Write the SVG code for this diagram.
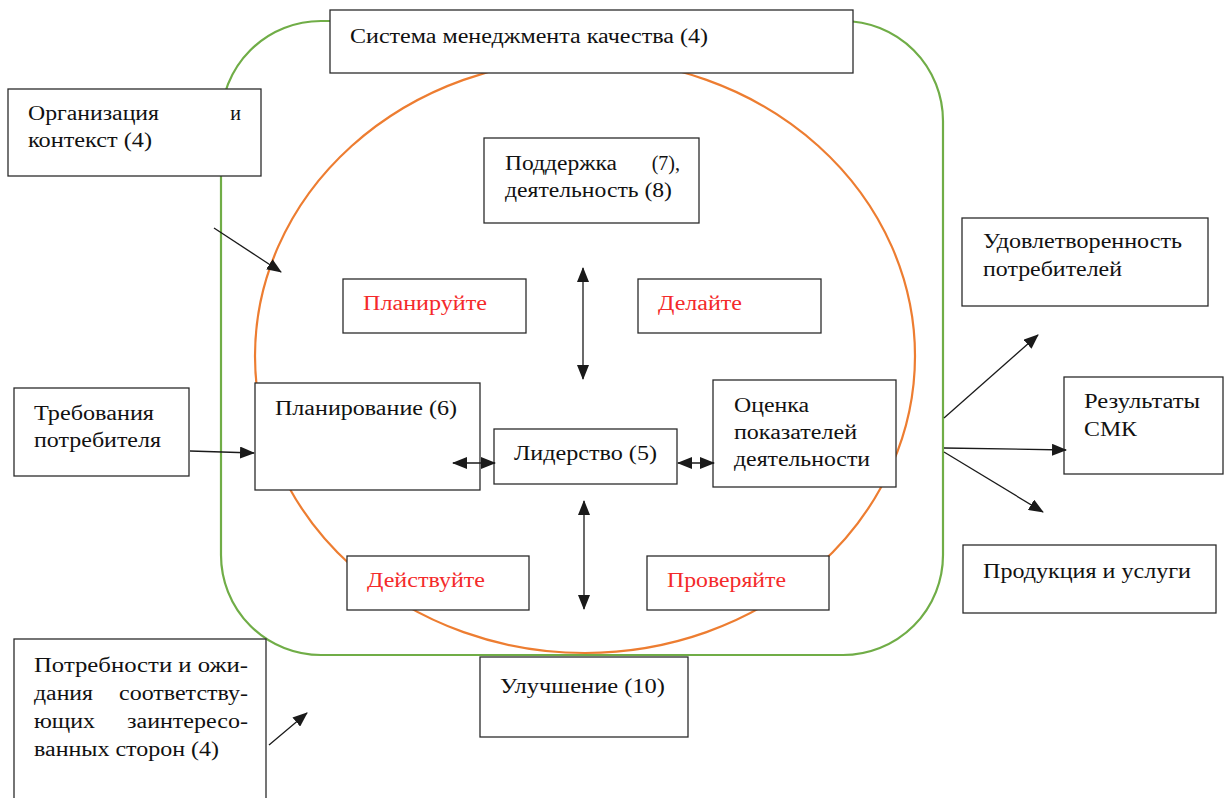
<svg xmlns="http://www.w3.org/2000/svg" width="1227" height="798" viewBox="0 0 1227 798">
<style>
.box{fill:#fff;stroke:#2b2b2b;stroke-width:1.3}
.t{font-family:'Liberation Serif','DejaVu Serif',serif;font-size:20px;fill:#111}
.r{fill:#f42a2a}
.ln{stroke:#1a1a1a;stroke-width:1.3;fill:none}
</style>
<defs>
<marker id="ah" markerUnits="userSpaceOnUse" markerWidth="15" markerHeight="12" viewBox="0 0 15 12" refX="14" refY="6" orient="auto-start-reverse">
<path d="M0,0 L15,6 L0,12 z" fill="#1a1a1a"/>
</marker>
</defs>
<rect id="bg" x="0" y="0" width="1227" height="798" fill="#fff"/>
<rect id="qms-boundary" x="221" y="21" width="722" height="634" rx="100" ry="100" fill="none" stroke="#70ad47" stroke-width="2.2"/>
<ellipse id="pdca-cycle" cx="585" cy="356" rx="330" ry="297" fill="none" stroke="#ed7d31" stroke-width="2.2"/>
<g id="qms">
<rect class="box" x="330" y="10" width="523" height="63"/>
<text class="t" x="350" y="43" textLength="358" lengthAdjust="spacingAndGlyphs">Система менеджмента качества (4)</text>
</g>
<g id="org-context">
<rect class="box" x="8" y="89" width="253" height="87"/>
<text class="t" x="28" y="120" textLength="131" lengthAdjust="spacingAndGlyphs">Организация</text>
<text class="t" x="241" y="120" text-anchor="end">и</text>
<text class="t" x="28" y="147" textLength="124" lengthAdjust="spacingAndGlyphs">контекст (4)</text>
</g>
<g id="support">
<rect class="box" x="484" y="138" width="215" height="85"/>
<text class="t" x="505" y="170" textLength="112" lengthAdjust="spacingAndGlyphs">Поддержка</text>
<text class="t" x="680" y="170" text-anchor="end">(7),</text>
<text class="t" x="505" y="197" textLength="167" lengthAdjust="spacingAndGlyphs">деятельность (8)</text>
</g>
<g id="plan">
<rect class="box" x="343" y="279" width="183" height="54"/>
<text class="t r" x="363" y="310" textLength="124" lengthAdjust="spacingAndGlyphs">Планируйте</text>
</g>
<g id="do">
<rect class="box" x="638" y="279" width="183" height="54"/>
<text class="t r" x="658" y="310" textLength="84" lengthAdjust="spacingAndGlyphs">Делайте</text>
</g>
<g id="planning">
<rect class="box" x="255" y="383" width="225" height="107"/>
<text class="t" x="275" y="415" textLength="182" lengthAdjust="spacingAndGlyphs">Планирование (6)</text>
</g>
<g id="requirements">
<rect class="box" x="14" y="388" width="175" height="88"/>
<text class="t" x="34" y="420" textLength="120" lengthAdjust="spacingAndGlyphs">Требования</text>
<text class="t" x="34" y="447" textLength="127" lengthAdjust="spacingAndGlyphs">потребителя</text>
</g>
<g id="leadership">
<rect class="box" x="494" y="429" width="183" height="55"/>
<text class="t" x="514" y="460" textLength="143" lengthAdjust="spacingAndGlyphs">Лидерство (5)</text>
</g>
<g id="evaluation">
<rect class="box" x="713" y="380" width="183" height="107"/>
<text class="t" x="734" y="412" textLength="75" lengthAdjust="spacingAndGlyphs">Оценка</text>
<text class="t" x="734" y="439" textLength="123" lengthAdjust="spacingAndGlyphs">показателей</text>
<text class="t" x="734" y="466" textLength="136" lengthAdjust="spacingAndGlyphs">деятельности</text>
</g>
<g id="act">
<rect class="box" x="347" y="556" width="182" height="54"/>
<text class="t r" x="367" y="587" textLength="118" lengthAdjust="spacingAndGlyphs">Действуйте</text>
</g>
<g id="check">
<rect class="box" x="647" y="556" width="182" height="54"/>
<text class="t r" x="667" y="587" textLength="119" lengthAdjust="spacingAndGlyphs">Проверяйте</text>
</g>
<g id="satisfaction">
<rect class="box" x="962" y="218" width="246" height="88"/>
<text class="t" x="983" y="248" textLength="199" lengthAdjust="spacingAndGlyphs">Удовлетворенность</text>
<text class="t" x="983" y="276" textLength="139" lengthAdjust="spacingAndGlyphs">потребителей</text>
</g>
<g id="results">
<rect class="box" x="1064" y="377" width="159" height="97"/>
<text class="t" x="1084" y="408" textLength="116" lengthAdjust="spacingAndGlyphs">Результаты</text>
<text class="t" x="1084" y="436" textLength="53" lengthAdjust="spacingAndGlyphs">СМК</text>
</g>
<g id="products">
<rect class="box" x="963" y="545" width="253" height="68"/>
<text class="t" x="983" y="578" textLength="208" lengthAdjust="spacingAndGlyphs">Продукция и услуги</text>
</g>
<g id="stakeholders">
<rect class="box" x="14" y="639" width="252" height="175"/>
<text class="t" x="34" y="672" textLength="214" lengthAdjust="spacingAndGlyphs">Потребности и ожи-</text>
<text class="t" x="34" y="700" textLength="59" lengthAdjust="spacingAndGlyphs">дания</text>
<text class="t" x="119" y="700" textLength="129" lengthAdjust="spacingAndGlyphs">соответству-</text>
<text class="t" x="34" y="728" textLength="61" lengthAdjust="spacingAndGlyphs">ющих</text>
<text class="t" x="127" y="728" textLength="121" lengthAdjust="spacingAndGlyphs">заинтересо-</text>
<text class="t" x="34" y="756" textLength="185" lengthAdjust="spacingAndGlyphs">ванных сторон (4)</text>
</g>
<g id="improvement">
<rect class="box" x="480" y="657" width="208" height="80"/>
<text class="t" x="500" y="693" textLength="165" lengthAdjust="spacingAndGlyphs">Улучшение (10)</text>
</g>
<g id="connectors">
<line class="ln" x1="214" y1="228" x2="281" y2="272" marker-end="url(#ah)"/>
<line class="ln" x1="190" y1="451" x2="254" y2="453" marker-end="url(#ah)"/>
<line class="ln" x1="269" y1="745" x2="307" y2="713" marker-end="url(#ah)"/>
<line class="ln" x1="583" y1="268" x2="583" y2="379" marker-start="url(#ah)" marker-end="url(#ah)"/>
<line class="ln" x1="584" y1="501" x2="584" y2="609" marker-start="url(#ah)" marker-end="url(#ah)"/>
<line class="ln" x1="453" y1="463" x2="495" y2="463" marker-start="url(#ah)" marker-end="url(#ah)"/>
<line class="ln" x1="678" y1="463" x2="714" y2="463" marker-start="url(#ah)" marker-end="url(#ah)"/>
<line class="ln" x1="944" y1="418" x2="1038" y2="335" marker-end="url(#ah)"/>
<line class="ln" x1="944" y1="448" x2="1066" y2="450" marker-end="url(#ah)"/>
<line class="ln" x1="944" y1="452" x2="1043" y2="512" marker-end="url(#ah)"/>
</g>
</svg>
